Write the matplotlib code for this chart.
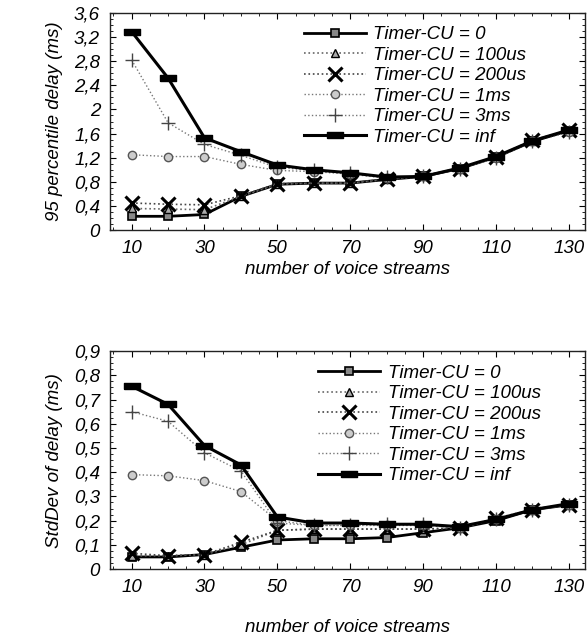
import numpy as np
import matplotlib
matplotlib.use('Agg')
import matplotlib.pyplot as plt
from matplotlib.ticker import FuncFormatter, MultipleLocator

plt.rcParams['font.family'] = ['Liberation Sans', 'DejaVu Sans']
plt.rcParams['font.style'] = 'italic'

streams = [10, 20, 30, 40, 50, 60, 70, 80, 90, 100, 110, 120, 130]
labels = ['Timer-CU = 0', 'Timer-CU = 100us', 'Timer-CU = 200us',
          'Timer-CU = 1ms', 'Timer-CU = 3ms', 'Timer-CU = inf']

# 95 percentile delay (ms)
p95_0 = [0.23, 0.23, 0.26, 0.56, 0.76, 0.78, 0.78, 0.84, 0.89, 1.02, 1.21, 1.47, 1.65]
p95_100us = [0.36, 0.35, 0.34, 0.56, 0.76, 0.78, 0.78, 0.84, 0.89, 1.02, 1.21, 1.48, 1.65]
p95_200us = [0.45, 0.43, 0.42, 0.57, 0.77, 0.78, 0.78, 0.85, 0.89, 1.02, 1.22, 1.49, 1.66]
p95_1ms = [1.25, 1.22, 1.22, 1.09, 0.99, 0.97, 0.93, 0.86, 0.89, 1.02, 1.19, 1.47, 1.62]
p95_3ms = [2.82, 1.78, 1.42, 1.24, 1.04, 0.99, 0.94, 0.88, 0.89, 1.02, 1.2, 1.48, 1.63]
p95_inf = [3.29, 2.52, 1.53, 1.3, 1.08, 1.0, 0.95, 0.88, 0.89, 1.03, 1.22, 1.48, 1.66]

# standard deviation of delay (ms)
sd_0 = [0.05, 0.05, 0.06, 0.09, 0.12, 0.125, 0.125, 0.13, 0.15, 0.17, 0.2, 0.245, 0.265]
sd_100us = [0.055, 0.055, 0.06, 0.1, 0.16, 0.165, 0.165, 0.165, 0.165, 0.17, 0.205, 0.245, 0.265]
sd_200us = [0.065, 0.055, 0.06, 0.11, 0.16, 0.165, 0.165, 0.165, 0.165, 0.17, 0.21, 0.245, 0.265]
sd_1ms = [0.39, 0.385, 0.365, 0.32, 0.2, 0.18, 0.18, 0.18, 0.18, 0.17, 0.205, 0.245, 0.265]
sd_3ms = [0.65, 0.61, 0.48, 0.405, 0.19, 0.18, 0.18, 0.185, 0.185, 0.17, 0.205, 0.245, 0.265]
sd_inf = [0.755, 0.68, 0.51, 0.43, 0.215, 0.19, 0.19, 0.185, 0.185, 0.175, 0.205, 0.245, 0.27]

# wide flat block used for the "inf" series
wide = [(-1.6, -0.7), (1.6, -0.7), (1.6, 0.7), (-1.6, 0.7), (-1.6, -0.7)]

styles = [
    dict(color='black', lw=2.0, ls='-', marker='s', ms=6, mfc='#888888', mec='black', mew=1.2),
    dict(color='#666666', lw=1.2, ls=':', marker='^', ms=6, mfc='#aaaaaa', mec='black', mew=1.0),
    dict(color='#444444', lw=1.2, ls=':', marker='x', ms=10, mec='black', mew=2.2),
    dict(color='#777777', lw=1.0, ls=':', marker='o', ms=6, mfc='#cccccc', mec='#555555', mew=1.0),
    dict(color='#777777', lw=1.0, ls=':', marker='+', ms=10, mec='#444444', mew=1.0),
    dict(color='black', lw=2.2, ls='-', marker=wide, ms=11, mfc='black', mec='black'),
]


def comma(v, pos):
    return ('%g' % round(v, 2)).replace('.', ',')


def setup(ax, ymax, ystep, yminor, ylabel, legx):
    ax.set_xlim(4, 134.5)
    ax.set_ylim(0, ymax)
    ax.set_xticks([10, 30, 50, 70, 90, 110, 130])
    ax.xaxis.set_minor_locator(MultipleLocator(5))
    ax.yaxis.set_major_locator(MultipleLocator(ystep))
    ax.yaxis.set_minor_locator(MultipleLocator(yminor))
    ax.yaxis.set_major_formatter(FuncFormatter(comma))
    ax.tick_params(which='both', direction='in', top=True, right=True, labelsize=13.5, pad=7)
    ax.tick_params(which='major', length=4)
    ax.tick_params(which='minor', length=2)
    for s in ax.spines.values():
        s.set_linewidth(1.0)
        s.set_color('#222222')
    ax.set_ylabel(ylabel, fontsize=13.5, labelpad=8)
    ax.set_xlabel('number of voice streams', fontsize=13.5, labelpad=3)
    ax.legend(loc='upper right', bbox_to_anchor=(legx, 0.99), frameon=False,
              fontsize=13.5, handlelength=3.3, labelspacing=0.18, handletextpad=0.4,
              borderaxespad=0.2)


fig = plt.figure(figsize=(5.87, 6.43), dpi=100)
ax1 = fig.add_axes([0.187, 0.642, 0.81, 0.338])
ax2 = fig.add_axes([0.187, 0.115, 0.81, 0.339])

for ys, lab, st in zip([p95_0, p95_100us, p95_200us, p95_1ms, p95_3ms, p95_inf], labels, styles):
    ax1.plot(streams, ys, label=lab, **st)
setup(ax1, 3.6, 0.4, 0.1, '95 percentile delay (ms)', 0.90)

for ys, lab, st in zip([sd_0, sd_100us, sd_200us, sd_1ms, sd_3ms, sd_inf], labels, styles):
    ax2.plot(streams, ys, label=lab, **st)
setup(ax2, 0.9, 0.1, 0.025, 'StdDev of delay (ms)', 0.93)
ax2.xaxis.labelpad = 17

fig.savefig('out.png', dpi=100)
